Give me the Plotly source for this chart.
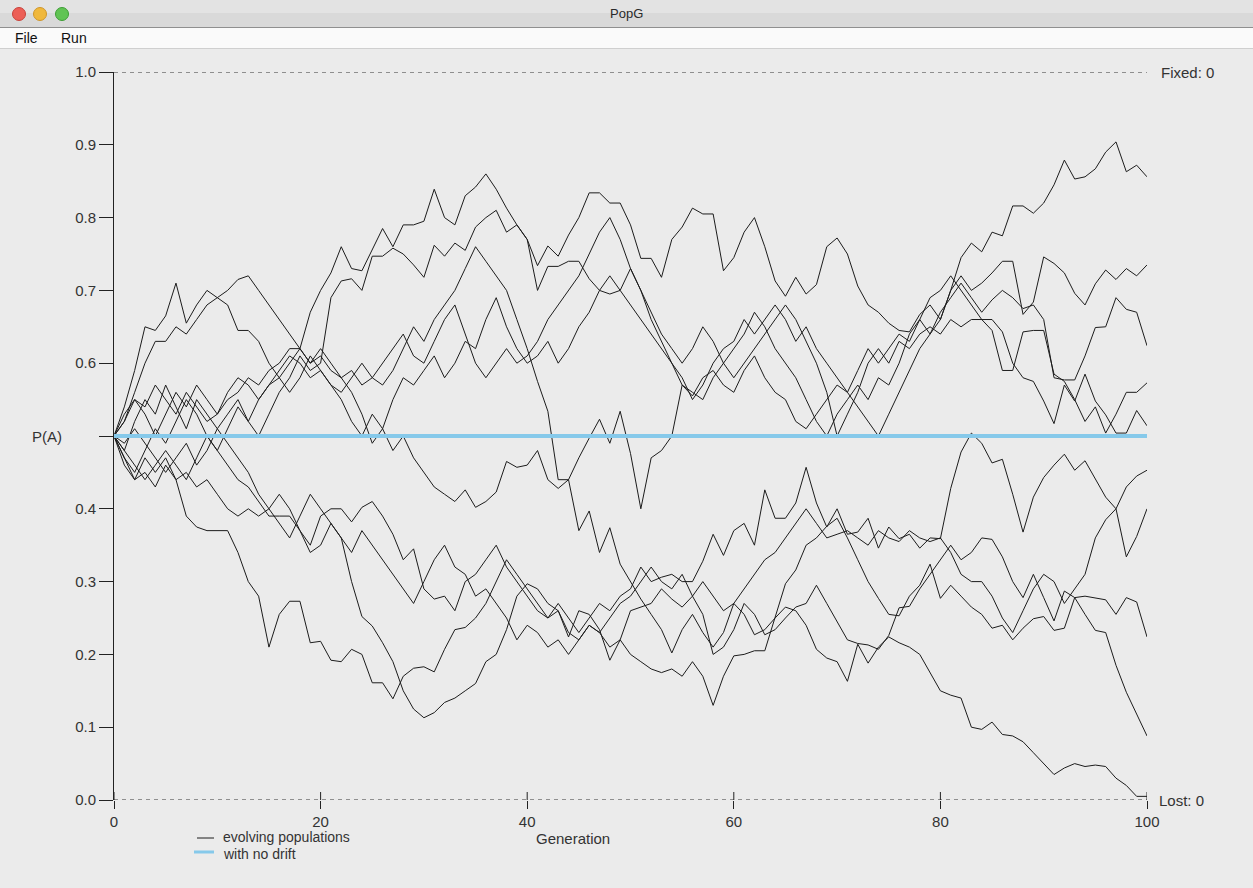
import plotly.graph_objects as go

# ---------------- data ----------------
generations = list(range(101))

pop_a = [0.50, 0.52, 0.56, 0.60, 0.63, 0.63, 0.65, 0.64, 0.66, 0.68,
         0.69, 0.70, 0.715, 0.72, 0.70, 0.68, 0.66, 0.64, 0.62, 0.60,
         0.61, 0.59, 0.58, 0.56, 0.53, 0.49, 0.51, 0.55, 0.58, 0.57,
         0.59, 0.61, 0.58, 0.60, 0.63, 0.62, 0.66, 0.69, 0.65, 0.62,
         0.60, 0.61, 0.63, 0.60, 0.62, 0.65, 0.67, 0.70, 0.72, 0.70,
         0.73, 0.70, 0.66, 0.63, 0.60, 0.57, 0.555, 0.58, 0.59, 0.57,
         0.56, 0.59, 0.61, 0.58, 0.56, 0.55, 0.52, 0.51, 0.53, 0.55,
         0.57, 0.56, 0.54, 0.52, 0.50, 0.53, 0.56, 0.59, 0.62, 0.64,
         0.66, 0.70, 0.745, 0.765, 0.753, 0.78, 0.775, 0.816, 0.816, 0.806,
         0.82, 0.845, 0.879, 0.853, 0.856, 0.867, 0.89, 0.904, 0.863, 0.872, 0.856]

pop_b = [0.50, 0.53, 0.55, 0.54, 0.57, 0.55, 0.53, 0.56, 0.54, 0.52,
         0.53, 0.55, 0.56, 0.58, 0.57, 0.59, 0.60, 0.62, 0.62, 0.67,
         0.70, 0.724, 0.76, 0.73, 0.727, 0.756, 0.785, 0.76, 0.79, 0.79,
         0.795, 0.839, 0.80, 0.79, 0.83, 0.842, 0.86, 0.839, 0.813, 0.79,
         0.77, 0.734, 0.761, 0.747, 0.776, 0.80, 0.834, 0.834, 0.82, 0.82,
         0.79, 0.744, 0.744, 0.718, 0.77, 0.787, 0.813, 0.805, 0.805, 0.727,
         0.745, 0.78, 0.80, 0.76, 0.713, 0.692, 0.718, 0.695, 0.708, 0.76,
         0.772, 0.75, 0.706, 0.68, 0.67, 0.655, 0.645, 0.643, 0.667, 0.68,
         0.66, 0.70, 0.72, 0.70, 0.71, 0.724, 0.74, 0.74, 0.667, 0.684,
         0.746, 0.737, 0.724, 0.696, 0.68, 0.709, 0.728, 0.715, 0.73, 0.72, 0.735]

pop_c = [0.50, 0.48, 0.52, 0.55, 0.53, 0.57, 0.54, 0.51, 0.55, 0.53,
         0.51, 0.53, 0.55, 0.52, 0.50, 0.53, 0.56, 0.58, 0.61, 0.59,
         0.60, 0.69, 0.713, 0.716, 0.70, 0.747, 0.747, 0.758, 0.75, 0.735,
         0.718, 0.762, 0.747, 0.765, 0.755, 0.787, 0.80, 0.81, 0.78, 0.79,
         0.77, 0.70, 0.733, 0.733, 0.74, 0.74, 0.716, 0.70, 0.695, 0.70,
         0.68, 0.66, 0.64, 0.62, 0.60, 0.58, 0.55, 0.57, 0.60, 0.62,
         0.63, 0.66, 0.64, 0.66, 0.68, 0.66, 0.63, 0.65, 0.62, 0.60,
         0.58, 0.56, 0.59, 0.62, 0.60, 0.62, 0.64, 0.63, 0.66, 0.64,
         0.67, 0.69, 0.71, 0.69, 0.67, 0.687, 0.70, 0.69, 0.675, 0.68,
         0.66, 0.58, 0.577, 0.577, 0.61, 0.649, 0.65, 0.69, 0.674, 0.67, 0.624]

pop_d = [0.50, 0.47, 0.45, 0.48, 0.51, 0.49, 0.52, 0.55, 0.53, 0.50,
         0.48, 0.51, 0.54, 0.52, 0.55, 0.57, 0.58, 0.56, 0.58, 0.61,
         0.59, 0.57, 0.55, 0.52, 0.50, 0.53, 0.51, 0.48, 0.50, 0.47,
         0.45, 0.43, 0.42, 0.41, 0.426, 0.402, 0.41, 0.423, 0.465, 0.457,
         0.46, 0.48, 0.44, 0.428, 0.44, 0.47, 0.497, 0.523, 0.49, 0.534,
         0.476, 0.40, 0.47, 0.48, 0.50, 0.57, 0.56, 0.55, 0.58, 0.60,
         0.62, 0.64, 0.67, 0.65, 0.62, 0.60, 0.58, 0.55, 0.52, 0.50,
         0.53, 0.55, 0.57, 0.55, 0.58, 0.57, 0.60, 0.64, 0.66, 0.69,
         0.70, 0.72, 0.70, 0.68, 0.66, 0.645, 0.59, 0.59, 0.643, 0.645,
         0.645, 0.585, 0.575, 0.55, 0.52, 0.54, 0.504, 0.53, 0.56, 0.56, 0.573]

pop_e = [0.50, 0.54, 0.59, 0.65, 0.645, 0.665, 0.71, 0.655, 0.68, 0.70,
         0.69, 0.68, 0.645, 0.645, 0.63, 0.60, 0.58, 0.60, 0.62, 0.60,
         0.62, 0.60, 0.58, 0.59, 0.57, 0.58, 0.60, 0.62, 0.64, 0.61,
         0.60, 0.63, 0.66, 0.68, 0.64, 0.60, 0.58, 0.60, 0.62, 0.60,
         0.61, 0.63, 0.66, 0.68, 0.70, 0.72, 0.75, 0.78, 0.80, 0.77,
         0.73, 0.70, 0.67, 0.64, 0.62, 0.60, 0.62, 0.65, 0.63, 0.60,
         0.58, 0.60, 0.62, 0.64, 0.66, 0.68, 0.66, 0.63, 0.60, 0.56,
         0.50, 0.53, 0.56, 0.60, 0.62, 0.60, 0.63, 0.62, 0.64, 0.65,
         0.64, 0.66, 0.65, 0.66, 0.66, 0.66, 0.643, 0.60, 0.58, 0.575,
         0.548, 0.517, 0.57, 0.548, 0.585, 0.548, 0.529, 0.504, 0.504, 0.535, 0.514]

pop_f = [0.50, 0.49, 0.51, 0.49, 0.47, 0.45, 0.47, 0.49, 0.46, 0.48,
         0.51, 0.49, 0.47, 0.45, 0.42, 0.40, 0.38, 0.36, 0.39, 0.42,
         0.40, 0.38, 0.36, 0.34, 0.37, 0.35, 0.33, 0.31, 0.29, 0.27,
         0.30, 0.33, 0.35, 0.32, 0.31, 0.28, 0.29, 0.27, 0.25, 0.22,
         0.24, 0.23, 0.21, 0.22, 0.20, 0.22, 0.24, 0.23, 0.25, 0.27,
         0.28, 0.30, 0.32, 0.30, 0.29, 0.31, 0.28, 0.30, 0.28, 0.26,
         0.27, 0.29, 0.31, 0.33, 0.34, 0.36, 0.38, 0.40, 0.38, 0.36,
         0.365, 0.37, 0.36, 0.35, 0.37, 0.36, 0.355, 0.37, 0.36, 0.355,
         0.36, 0.34, 0.31, 0.30, 0.30, 0.28, 0.25, 0.23, 0.26, 0.29,
         0.31, 0.30, 0.27, 0.29, 0.31, 0.36, 0.385, 0.40, 0.43, 0.445, 0.453]

pop_g = [0.50, 0.46, 0.44, 0.47, 0.45, 0.47, 0.44, 0.45, 0.43, 0.44,
         0.42, 0.40, 0.39, 0.40, 0.39, 0.40, 0.42, 0.40, 0.37, 0.35,
         0.39, 0.40, 0.40, 0.382, 0.402, 0.41, 0.39, 0.365, 0.33, 0.345,
         0.29, 0.276, 0.28, 0.26, 0.30, 0.31, 0.33, 0.35, 0.32, 0.30,
         0.28, 0.26, 0.25, 0.27, 0.25, 0.23, 0.25, 0.27, 0.26, 0.28,
         0.29, 0.32, 0.30, 0.306, 0.31, 0.30, 0.30, 0.328, 0.365, 0.336,
         0.37, 0.38, 0.35, 0.426, 0.387, 0.387, 0.408, 0.457, 0.408, 0.375,
         0.40, 0.365, 0.368, 0.387, 0.346, 0.375, 0.359, 0.365, 0.346, 0.36,
         0.359, 0.428, 0.478, 0.504, 0.49, 0.463, 0.468, 0.42, 0.368, 0.416,
         0.443, 0.46, 0.475, 0.453, 0.466, 0.44, 0.416, 0.40, 0.334, 0.362, 0.40]

pop_h = [0.50, 0.47, 0.44, 0.45, 0.43, 0.46, 0.44, 0.39, 0.375, 0.37,
         0.37, 0.37, 0.34, 0.30, 0.28, 0.21, 0.255, 0.273, 0.273, 0.216,
         0.218, 0.192, 0.19, 0.207, 0.20, 0.161, 0.161, 0.139, 0.17, 0.181,
         0.183, 0.176, 0.207, 0.234, 0.237, 0.25, 0.27, 0.30, 0.33, 0.31,
         0.29, 0.27, 0.25, 0.26, 0.23, 0.22, 0.24, 0.23, 0.21, 0.22,
         0.20, 0.19, 0.18, 0.175, 0.18, 0.17, 0.19, 0.17, 0.13, 0.17,
         0.198, 0.20, 0.205, 0.205, 0.25, 0.297, 0.316, 0.35, 0.36, 0.376,
         0.387, 0.36, 0.33, 0.30, 0.277, 0.255, 0.253, 0.28, 0.295, 0.324,
         0.277, 0.295, 0.28, 0.265, 0.255, 0.236, 0.24, 0.22, 0.236, 0.249,
         0.252, 0.233, 0.236, 0.278, 0.28, 0.278, 0.275, 0.255, 0.278, 0.272, 0.224]

pop_i = [0.50, 0.48, 0.46, 0.44, 0.46, 0.48, 0.46, 0.44, 0.47, 0.50,
         0.48, 0.46, 0.44, 0.43, 0.41, 0.39, 0.39, 0.39, 0.37, 0.34,
         0.35, 0.38, 0.36, 0.30, 0.252, 0.239, 0.216, 0.19, 0.15, 0.125,
         0.113, 0.12, 0.134, 0.14, 0.15, 0.16, 0.19, 0.20, 0.234, 0.28,
         0.297, 0.29, 0.27, 0.26, 0.224, 0.26, 0.255, 0.234, 0.192, 0.22,
         0.26, 0.265, 0.27, 0.29, 0.276, 0.265, 0.28, 0.255, 0.20, 0.21,
         0.234, 0.27, 0.255, 0.227, 0.234, 0.25, 0.265, 0.27, 0.295, 0.27,
         0.246, 0.22, 0.215, 0.213, 0.207, 0.226, 0.264, 0.266, 0.29, 0.31,
         0.33, 0.35, 0.33, 0.34, 0.36, 0.358, 0.334, 0.30, 0.278, 0.31,
         0.278, 0.246, 0.287, 0.278, 0.255, 0.233, 0.23, 0.185, 0.148, 0.117, 0.088]

pop_j = [0.50, 0.52, 0.55, 0.53, 0.50, 0.53, 0.56, 0.54, 0.57, 0.55,
         0.53, 0.56, 0.58, 0.57, 0.55, 0.57, 0.59, 0.61, 0.60, 0.58,
         0.59, 0.57, 0.56, 0.58, 0.60, 0.58, 0.57, 0.59, 0.62, 0.65,
         0.63, 0.66, 0.68, 0.70, 0.73, 0.76, 0.74, 0.72, 0.70, 0.66,
         0.62, 0.575, 0.534, 0.44, 0.44, 0.37, 0.397, 0.34, 0.374, 0.324,
         0.30, 0.276, 0.255, 0.234, 0.202, 0.234, 0.255, 0.23, 0.21, 0.23,
         0.27, 0.255, 0.227, 0.234, 0.25, 0.265, 0.26, 0.24, 0.207, 0.195,
         0.19, 0.163, 0.214, 0.188, 0.21, 0.224, 0.216, 0.21, 0.20, 0.176,
         0.15, 0.144, 0.14, 0.10, 0.097, 0.107, 0.09, 0.088, 0.08, 0.065,
         0.05, 0.035, 0.044, 0.05, 0.046, 0.048, 0.046, 0.03, 0.02, 0.005, 0.005]

populations = [pop_a, pop_b, pop_c, pop_d, pop_e, pop_f, pop_g, pop_h, pop_i, pop_j]

no_drift_x = [0, 100]
no_drift_y = [0.5, 0.5]

x_tick_vals = [0, 20, 40, 60, 80, 100]
y_tick_vals = [0.0, 0.1, 0.2, 0.3, 0.4, 0.5, 0.6, 0.7, 0.8, 0.9, 1.0]
y_tick_text = ["0.0", "0.1", "0.2", "0.3", "0.4", "", "0.6", "0.7", "0.8", "0.9", "1.0"]
fixed_count = 0
lost_count = 0

# ---------------- layout helpers ----------------
W, H = 1253, 888
L, R, T, B = 114, 106, 72, 88
PW, PH = W - L - R, H - T - B
FONT = "Liberation Sans, Arial, Helvetica, sans-serif"
TXT = 15


def px(x):
    return (x - L) / PW


def py(y):
    return (H - B - y) / PH


fig = go.Figure()
for series in populations:
    fig.add_trace(go.Scatter(x=generations, y=series, mode="lines",
                             line=dict(color="#1c1c1c", width=1),
                             showlegend=False, hoverinfo="skip"))
fig.add_trace(go.Scatter(x=no_drift_x, y=no_drift_y, mode="lines",
                         line=dict(color="#86c9ea", width=4),
                         showlegend=False, hoverinfo="skip"))

shapes = []
# dashed boundaries at 0 and 1
for yv in (0.0, 1.0):
    shapes.append(dict(type="line", xref="x", yref="y", x0=0, x1=100, y0=yv, y1=yv,
                       line=dict(color="#333333", width=1, dash="4px,4px"), layer="below"))
# upper half of the x ticks (cross ticks)
for xv in x_tick_vals:
    shapes.append(dict(type="line", xref="x", yref="y", x0=xv, x1=xv, y0=0, y1=8 / PH,
                       line=dict(color="#222222", width=1)))

# window title bar
shapes.append(dict(type="rect", xref="paper", yref="paper", x0=px(0), x1=px(W), y0=py(27), y1=py(0),
                   fillcolor="#d9d9d9", line=dict(width=0), layer="below"))
shapes.append(dict(type="rect", xref="paper", yref="paper", x0=px(0), x1=px(W), y0=py(13), y1=py(0),
                   fillcolor="#e3e3e3", line=dict(width=0), layer="below"))
shapes.append(dict(type="line", xref="paper", yref="paper", x0=px(0), x1=px(W), y0=py(27.5), y1=py(27.5),
                   line=dict(color="#8f8f8f", width=1)))
# menu bar
shapes.append(dict(type="rect", xref="paper", yref="paper", x0=px(0), x1=px(W), y0=py(48), y1=py(28),
                   fillcolor="#fafafa", line=dict(width=0), layer="below"))
shapes.append(dict(type="line", xref="paper", yref="paper", x0=px(0), x1=px(W), y0=py(48.5), y1=py(48.5),
                   line=dict(color="#cfcfcf", width=1)))
# traffic lights
for cx, col, edge in ((19, "#ec5f57", "#c9423b"), (40, "#f0b83c", "#cf962a"), (62, "#61c454", "#3e9e35")):
    r = 6.5
    shapes.append(dict(type="circle", xref="paper", yref="paper",
                       x0=px(cx - r), x1=px(cx + r), y0=py(14 + r), y1=py(14 - r),
                       fillcolor=col, line=dict(color=edge, width=1)))
# legend samples
shapes.append(dict(type="line", xref="paper", yref="paper", x0=px(197), x1=px(214), y0=py(838), y1=py(838),
                   line=dict(color="#1c1c1c", width=1)))
shapes.append(dict(type="line", xref="paper", yref="paper", x0=px(194), x1=px(214), y0=py(852), y1=py(852),
                   line=dict(color="#86c9ea", width=3)))

ann_font = dict(family=FONT, size=TXT, color="#333333")
leg_font = dict(family=FONT, size=14, color="#333333")
annotations = [
    dict(text="P(A)", x=px(47), y=py(436), xref="paper", yref="paper", showarrow=False,
         xanchor="center", yanchor="middle", font=ann_font),
    dict(text=f"Fixed: {fixed_count}", x=px(1159), y=py(72), xref="paper", yref="paper", showarrow=False,
         xanchor="left", yanchor="middle", font=ann_font),
    dict(text=f"Lost: {lost_count}", x=px(1157), y=py(800), xref="paper", yref="paper", showarrow=False,
         xanchor="left", yanchor="middle", font=ann_font),
    dict(text="Generation", x=px(573), y=py(838), xref="paper", yref="paper", showarrow=False,
         xanchor="center", yanchor="middle", font=ann_font),
    dict(text="evolving populations", x=px(221), y=py(837), xref="paper", yref="paper", showarrow=False,
         xanchor="left", yanchor="middle", font=leg_font),
    dict(text="with no drift", x=px(221), y=py(853.5), xref="paper", yref="paper", showarrow=False,
         xanchor="left", yanchor="middle", font=leg_font),
    dict(text="PopG", x=px(626), y=py(13), xref="paper", yref="paper", showarrow=False,
         xanchor="center", yanchor="middle", font=dict(family=FONT, size=13, color="#2a2a2a")),
    dict(text="File", x=px(13), y=py(38), xref="paper", yref="paper", showarrow=False,
         xanchor="left", yanchor="middle", font=dict(family=FONT, size=14, color="#111111")),
    dict(text="Run", x=px(59), y=py(38), xref="paper", yref="paper", showarrow=False,
         xanchor="left", yanchor="middle", font=dict(family=FONT, size=14, color="#111111")),
]

fig.update_layout(
    width=W, height=H, autosize=False,
    margin=dict(l=L, r=R, t=T, b=B, pad=0),
    paper_bgcolor="#ebebeb", plot_bgcolor="#ebebeb",
    showlegend=False,
    font=dict(family=FONT, size=TXT, color="#333333"),
    shapes=shapes, annotations=annotations,
    xaxis=dict(range=[0, 100], tickvals=x_tick_vals, ticktext=[str(v) for v in x_tick_vals],
               ticks="outside", ticklen=8, tickwidth=1, tickcolor="#222222",
               showline=False, showgrid=False, zeroline=False, automargin=False,
               tickfont=dict(family=FONT, size=TXT, color="#333333")),
    yaxis=dict(range=[0, 1], tickvals=y_tick_vals, ticktext=y_tick_text,
               ticks="outside", ticklen=14, tickwidth=1, tickcolor="#222222",
               showline=True, linecolor="#222222", linewidth=1,
               showgrid=False, zeroline=False, automargin=False,
               tickfont=dict(family=FONT, size=TXT, color="#333333")),
)

page_fix = ("document.body.style.margin='0';document.body.style.padding='0';"
            "document.body.style.background='#ebebeb';document.body.style.overflow='hidden';")

fig.write_html("out.html", config={"displayModeBar": False, "staticPlot": True}, post_script=page_fix)
